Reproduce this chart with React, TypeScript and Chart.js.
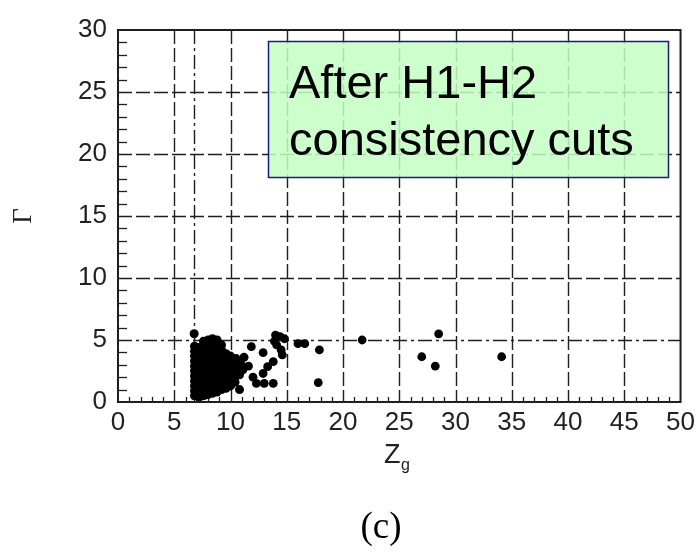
import React, { useEffect, useRef } from "react";
import { Chart, registerables } from "chart.js";

Chart.register(...registerables);

// ---------- data ----------
const xTickValues = [0, 5, 10, 15, 20, 25, 30, 35, 40, 45, 50];
const yTickValues = [0, 5, 10, 15, 20, 25, 30];

// dense core of the distribution (Z_g, Gamma)
const coreCluster: [number, number][] = [
  [6.8, 0.5], [6.8, 0.9], [6.8, 1.3], [6.8, 1.7], [6.8, 2.1], [6.8, 2.5], [6.8, 2.9], [6.8, 3.3], [6.8, 3.7], [6.8, 4.1], [6.8, 4.5], [6.77, 5.5],
  [7.2, 0.4], [7.2, 0.8], [7.2, 1.2], [7.2, 1.6], [7.2, 2.0], [7.2, 2.4], [7.2, 2.8], [7.2, 3.2], [7.2, 3.6], [7.2, 4.0], [7.2, 4.4],
  [7.6, 0.5], [7.6, 0.9], [7.6, 1.3], [7.6, 1.7], [7.6, 2.1], [7.6, 2.5], [7.6, 2.9], [7.6, 3.3], [7.6, 3.7], [7.6, 4.1], [7.6, 4.5], [7.6, 4.9],
  [8.0, 0.6], [8.0, 1.0], [8.0, 1.4], [8.0, 1.8], [8.0, 2.2], [8.0, 2.6], [8.0, 3.0], [8.0, 3.4], [8.0, 3.8], [8.0, 4.2], [8.0, 4.6], [8.0, 5.0],
  [8.4, 0.7], [8.4, 1.1], [8.4, 1.5], [8.4, 1.9], [8.4, 2.3], [8.4, 2.7], [8.4, 3.1], [8.4, 3.5], [8.4, 3.9], [8.4, 4.3], [8.4, 4.7], [8.4, 5.1],
  [8.8, 0.8], [8.8, 1.2], [8.8, 1.6], [8.8, 2.0], [8.8, 2.4], [8.8, 2.8], [8.8, 3.2], [8.8, 3.6], [8.8, 4.0], [8.8, 4.4], [8.8, 4.8], [8.8, 5.0],
  [9.2, 1.0], [9.2, 1.4], [9.2, 1.8], [9.2, 2.2], [9.2, 2.6], [9.2, 3.0], [9.2, 3.4], [9.2, 3.8], [9.2, 4.2], [9.2, 4.6],
  [9.6, 1.1], [9.6, 1.5], [9.6, 1.9], [9.6, 2.3], [9.6, 2.7], [9.6, 3.1], [9.6, 3.5], [9.6, 3.9],
  [10.0, 1.3], [10.0, 1.7], [10.0, 2.1], [10.0, 2.5], [10.0, 2.9], [10.0, 3.3], [10.0, 3.7],
  [10.4, 1.6], [10.4, 2.0], [10.4, 2.4], [10.4, 2.8], [10.4, 3.2], [10.5, 3.5],
  [10.8, 2.2], [10.8, 2.7], [10.8, 1.0], [11.2, 3.6], [11.1, 2.6], [10.9, 3.1],
];

// sparse points beyond the core
const outlierZ = [11.85, 12.9, 13.8, 13.3, 12.9, 12.0, 12.3, 13.0, 13.8, 11.6, 14.1, 14.5, 14.6, 14.4, 14.0, 14.8, 13.9, 16.0, 16.6, 17.9, 17.8, 21.7, 28.5, 27.0, 28.2, 34.1];
const outlierGamma = [4.46, 3.98, 3.25, 2.85, 2.3, 2.0, 1.5, 1.5, 1.5, 2.9, 4.6, 4.2, 3.8, 5.27, 5.4, 5.1, 4.9, 4.7, 4.7, 4.2, 1.56, 5.0, 5.5, 3.65, 2.9, 3.65];

// reference cut lines
const zCutLine = 6.77;
const gammaCutLine = 5;

const annotationLines = ["After H1-H2", "consistency cuts"];
const xTitleMain = "Z";
const xTitleSub = "g";
const yTitle = "Γ";
const panelLabel = "(c)";

const SANS = '"Liberation Sans", Arial, sans-serif';
const SERIF = '"Liberation Serif", "Times New Roman", serif';
const INK = "#1e1e1e";

const framePlugin = {
  id: "framePlugin",
  beforeDatasetsDraw(chart: any) {
    const { ctx, chartArea: a, scales } = chart;
    const xs = scales.x;
    const ys = scales.y;
    ctx.save();
    ctx.strokeStyle = INK;
    ctx.lineWidth = 1.4;
    ctx.setLineDash([14, 4]);
    xTickValues.slice(1, -1).forEach((v) => {
      const px = Math.round(xs.getPixelForValue(v)) + 0.5;
      ctx.beginPath();
      ctx.moveTo(px, a.top);
      ctx.lineTo(px, a.bottom);
      ctx.stroke();
    });
    yTickValues.slice(1, -1).forEach((v) => {
      if (v === gammaCutLine) return;
      const py = Math.round(ys.getPixelForValue(v)) + 0.5;
      ctx.beginPath();
      ctx.moveTo(a.left, py);
      ctx.lineTo(a.right, py);
      ctx.stroke();
    });
    ctx.setLineDash([14, 4, 3, 4]);
    const cx = Math.round(xs.getPixelForValue(zCutLine)) + 0.5;
    ctx.beginPath();
    ctx.moveTo(cx, a.top);
    ctx.lineTo(cx, a.bottom);
    ctx.stroke();
    const cy = Math.round(ys.getPixelForValue(gammaCutLine)) + 0.5;
    ctx.beginPath();
    ctx.moveTo(a.left, cy);
    ctx.lineTo(a.right, cy);
    ctx.stroke();
    ctx.setLineDash([]);
    ctx.lineWidth = 1.3;
    for (let v = 1; v < 50; v++) {
      if (v % 5 === 0) continue;
      const px = Math.round(xs.getPixelForValue(v)) + 0.5;
      ctx.beginPath();
      ctx.moveTo(px, a.bottom);
      ctx.lineTo(px, a.bottom - 5);
      ctx.stroke();
    }
    for (let v = 1; v < 30; v++) {
      if (v % 5 === 0) continue;
      const py = Math.round(ys.getPixelForValue(v)) + 0.5;
      ctx.beginPath();
      ctx.moveTo(a.left, py);
      ctx.lineTo(a.left + 9, py);
      ctx.stroke();
    }
    ctx.restore();
  },
  afterDatasetsDraw(chart: any) {
    const { ctx, chartArea: a } = chart;
    ctx.save();
    ctx.strokeStyle = INK;
    ctx.lineWidth = 2;
    ctx.strokeRect(a.left, a.top, a.right - a.left, a.bottom - a.top);
    ctx.restore();
  },
  afterDraw(chart: any) {
    const { ctx } = chart;
    ctx.save();
    const bx = 268.5, by = 41.5, bw = 400, bh = 136;
    ctx.fillStyle = "rgba(195,255,195,0.85)";
    ctx.fillRect(bx, by, bw, bh);
    ctx.strokeStyle = "#1a1a80";
    ctx.lineWidth = 1.5;
    ctx.strokeRect(bx, by, bw, bh);
    ctx.fillStyle = "#000";
    ctx.font = `47px ${SANS}`;
    ctx.textBaseline = "alphabetic";
    ctx.textAlign = "left";
    ctx.fillText(annotationLines[0], 289, 98);
    ctx.fillText(annotationLines[1], 289, 155);
    ctx.fillStyle = "#222";
    ctx.font = `27px ${SANS}`;
    ctx.fillText(xTitleMain, 384, 463);
    ctx.font = `16px ${SANS}`;
    ctx.fillText(xTitleSub, 401, 470);
    ctx.fillStyle = "#000";
    ctx.font = `37px ${SERIF}`;
    ctx.textAlign = "center";
    ctx.fillText(panelLabel, 381, 538);
    ctx.restore();
  },
};

export default function App() {
  const canvasRef = useRef<HTMLCanvasElement | null>(null);

  useEffect(() => {
    const canvas = canvasRef.current;
    if (!canvas) return;
    const chart = new Chart(canvas, {
      type: "scatter",
      data: {
        datasets: [
          {
            label: "core",
            data: coreCluster.map(([x, y]) => ({ x, y })),
            pointRadius: 4.5,
            pointBackgroundColor: "#000",
            pointBorderWidth: 0,
          },
          {
            label: "outliers",
            data: outlierZ.map((x, i) => ({ x, y: outlierGamma[i] })),
            pointRadius: 4.4,
            pointBackgroundColor: "#000",
            pointBorderWidth: 0,
          },
        ],
      },
      options: {
        responsive: false,
        animation: false,
        events: [],
        layout: { padding: { left: 0, right: 18, top: 30, bottom: 98 } },
        plugins: {
          legend: { display: false },
          tooltip: { enabled: false },
        },
        scales: {
          x: {
            type: "linear",
            min: 0,
            max: 50,
            afterBuildTicks: (s: any) => {
              s.ticks = xTickValues.map((v) => ({ value: v }));
            },
            afterFit: (s: any) => {
              s.height = 60;
            },
            grid: { display: false, drawTicks: false },
            border: { display: false },
            ticks: {
              color: "#222",
              padding: 5,
              maxRotation: 0,
              font: { family: SANS, size: 26 },
            },
          },
          y: {
            type: "linear",
            min: 0,
            max: 30,
            afterBuildTicks: (s: any) => {
              s.ticks = yTickValues.map((v) => ({ value: v }));
            },
            afterFit: (s: any) => {
              s.width = 118;
            },
            grid: { display: false, drawTicks: false },
            border: { display: false },
            title: {
              display: true,
              text: yTitle,
              color: "#222",
              padding: { top: 8, bottom: 0 },
              font: { family: SERIF, size: 27 },
            },
            ticks: {
              color: "#222",
              padding: 11,
              font: { family: SANS, size: 26 },
            },
          },
        },
      },
      plugins: [framePlugin],
    });
    return () => chart.destroy();
  }, []);

  return (
    <div style={{ position: "fixed", left: 0, top: 0, width: 700, height: 560, background: "#fff" }}>
      <canvas ref={canvasRef} width={700} height={560} style={{ display: "block" }} />
    </div>
  );
}
